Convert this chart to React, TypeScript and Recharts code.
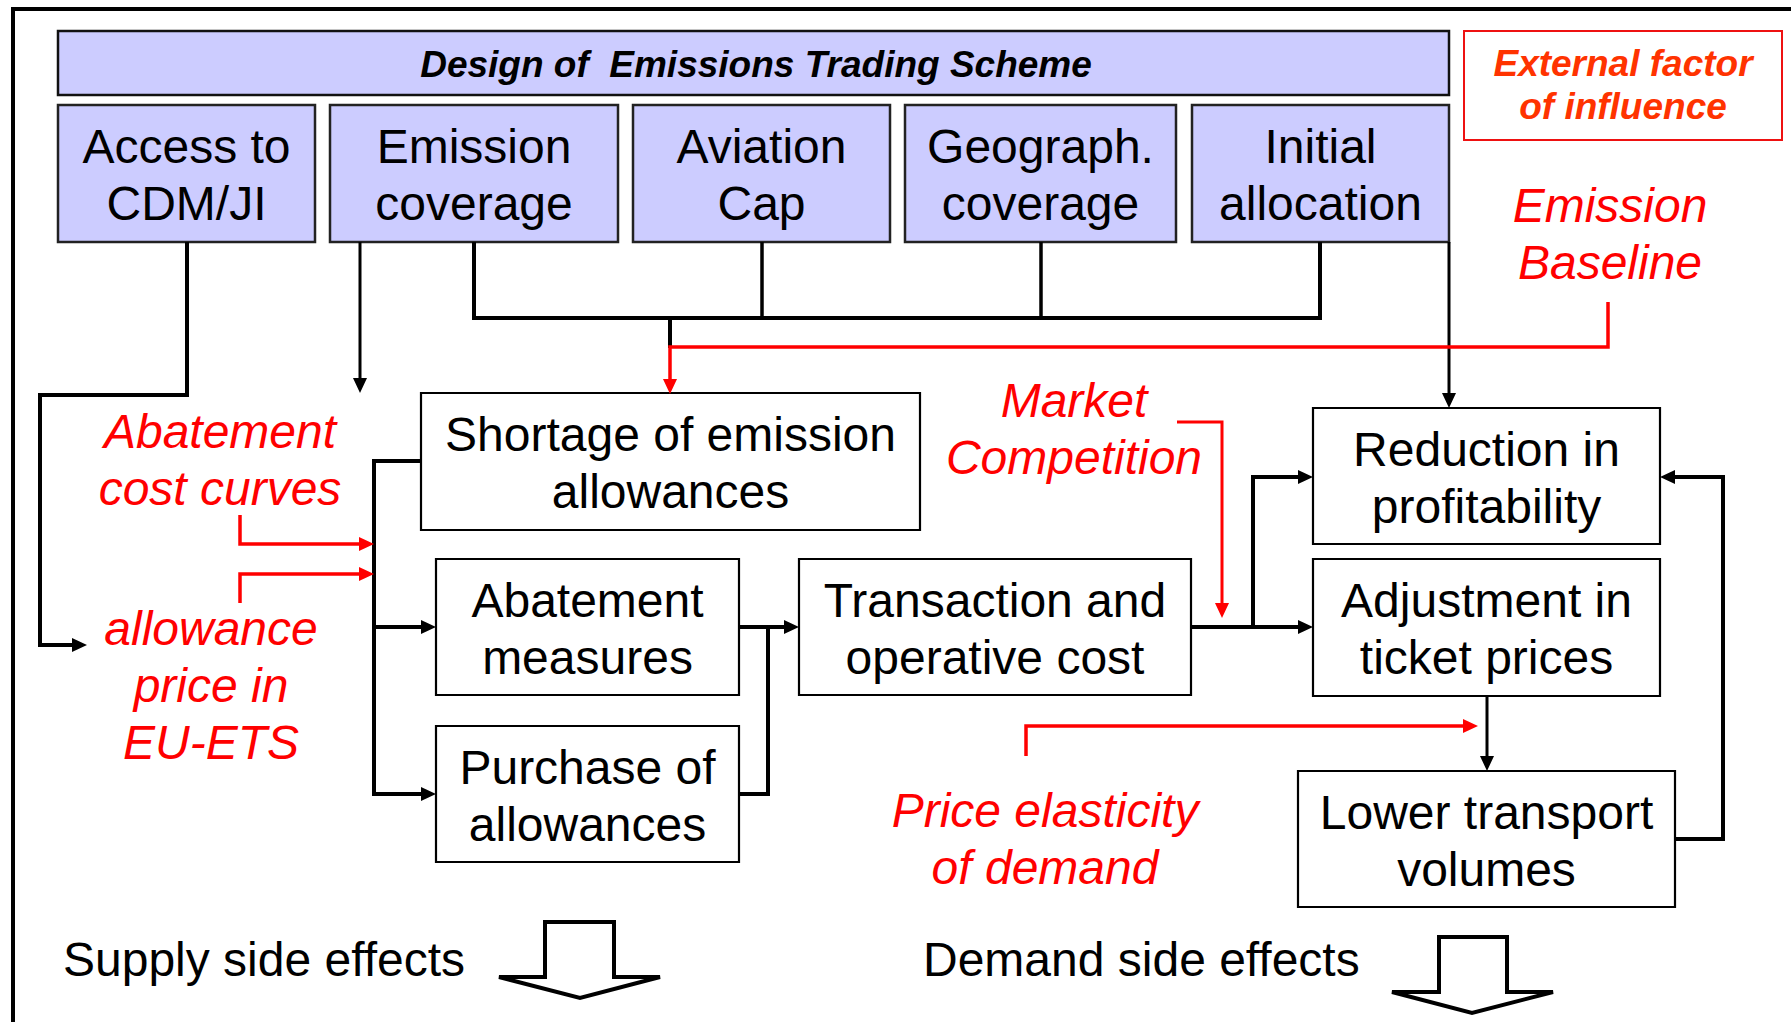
import React from 'react';
import { ComposedChart, XAxis, YAxis, Line, Scatter, ReferenceArea } from 'recharts';

const W = 1791;
const H = 1022;
const FONT = '"Liberation Sans", Arial, Helvetica, sans-serif';
const LAV = '#ccccff';
const RED = '#ff0000';
const ORANGE = '#ff3300';

// ---- boxes: [x1, x2, y1, y2, lines]
type Box = { x1: number; x2: number; y1: number; y2: number; lines: string[] };

const titleBox: Box = { x1: 58, x2: 1449, y1: 31, y2: 95, lines: [] };
const externalBox: Box = { x1: 1464, x2: 1782, y1: 31, y2: 140, lines: [] };

const designBoxes: Box[] = [
  { x1: 58, x2: 315, y1: 105, y2: 242, lines: ['Access to', 'CDM/JI'] },
  { x1: 330, x2: 618, y1: 105, y2: 242, lines: ['Emission', 'coverage'] },
  { x1: 633, x2: 890, y1: 105, y2: 242, lines: ['Aviation', 'Cap'] },
  { x1: 905, x2: 1176, y1: 105, y2: 242, lines: ['Geograph.', 'coverage'] },
  { x1: 1192, x2: 1449, y1: 105, y2: 242, lines: ['Initial', 'allocation'] },
];

const effectBoxes: Box[] = [
  { x1: 421, x2: 920, y1: 393, y2: 530, lines: ['Shortage of emission', 'allowances'] },
  { x1: 436, x2: 739, y1: 559, y2: 695, lines: ['Abatement', 'measures'] },
  { x1: 436, x2: 739, y1: 726, y2: 862, lines: ['Purchase of', 'allowances'] },
  { x1: 799, x2: 1191, y1: 559, y2: 695, lines: ['Transaction and', 'operative cost'] },
  { x1: 1313, x2: 1660, y1: 408, y2: 544, lines: ['Reduction in', 'profitability'] },
  { x1: 1313, x2: 1660, y1: 559, y2: 696, lines: ['Adjustment in', 'ticket prices'] },
  { x1: 1298, x2: 1675, y1: 771, y2: 907, lines: ['Lower transport', 'volumes'] },
];

// ---- red external-factor labels: centre x, first baseline, lines
const redLabels = [
  { x: 220, y: 448, lines: ['Abatement', 'cost curves'] },
  { x: 211, y: 645, lines: ['allowance', 'price in', 'EU-ETS'] },
  { x: 1074, y: 417, lines: ['Market', 'Competition'] },
  { x: 1610, y: 222, lines: ['Emission', 'Baseline'] },
  { x: 1045, y: 827, lines: ['Price elasticity', 'of demand'] },
];

const externalLines = ['External factor', 'of influence'];
const titleText = 'Design of  Emissions Trading Scheme';
const bottomTexts = [
  { x: 63, y: 976, text: 'Supply side effects' },
  { x: 923, y: 976, text: 'Demand side effects' },
];

// ---- connectors: point lists
type Conn = { pts: number[][]; color: string; w: number; arrow: boolean };

const blackConnectors: Conn[] = [
  { pts: [[187, 242], [187, 395], [40, 395], [40, 645], [87, 645]], color: '#000', w: 4, arrow: true },
  { pts: [[360, 242], [360, 393]], color: '#000', w: 3, arrow: true },
  { pts: [[474, 242], [474, 318], [1320, 318], [1320, 242]], color: '#000', w: 4, arrow: false },
  { pts: [[762, 242], [762, 318]], color: '#000', w: 3.5, arrow: false },
  { pts: [[1041, 242], [1041, 318]], color: '#000', w: 3.5, arrow: false },
  { pts: [[670, 318], [670, 348]], color: '#000', w: 4, arrow: false },
  { pts: [[1449, 242], [1449, 408]], color: '#000', w: 3, arrow: true },
  { pts: [[421, 461], [374, 461], [374, 794], [436, 794]], color: '#000', w: 4, arrow: true },
  { pts: [[374, 627], [436, 627]], color: '#000', w: 4, arrow: true },
  { pts: [[739, 627], [799, 627]], color: '#000', w: 4, arrow: true },
  { pts: [[739, 794], [768, 794], [768, 627]], color: '#000', w: 4, arrow: false },
  { pts: [[1191, 627], [1313, 627]], color: '#000', w: 4, arrow: true },
  { pts: [[1253, 627], [1253, 477], [1313, 477]], color: '#000', w: 4, arrow: true },
  { pts: [[1487, 696], [1487, 771]], color: '#000', w: 3, arrow: true },
  { pts: [[1675, 839], [1723, 839], [1723, 477], [1660, 477]], color: '#000', w: 4, arrow: true },
];

const redConnectors: Conn[] = [
  { pts: [[1608, 302], [1608, 347], [670, 347], [670, 394]], color: RED, w: 3.5, arrow: true },
  { pts: [[240, 515], [240, 544], [374, 544]], color: RED, w: 3.5, arrow: true },
  { pts: [[240, 603], [240, 574], [374, 574]], color: RED, w: 3.5, arrow: true },
  { pts: [[1177, 422], [1222, 422], [1222, 618]], color: RED, w: 3, arrow: true },
  { pts: [[1026, 756], [1026, 726], [1478, 726]], color: RED, w: 3.5, arrow: true },
];

const frame = [[13, 1022], [13, 9], [1791, 9]];

const supplyArrow = [[580, 922], [614, 922], [614, 977], [660, 977], [580, 998], [499, 977], [545, 977], [545, 922], [580, 922]];
const demandArrow = [[1473, 937], [1507, 937], [1507, 992], [1553, 992], [1472, 1013], [1392, 992], [1439, 992], [1439, 937], [1473, 937]];

const HEAD_L = 15;
const HEAD_W = 7;

const allConnectors = [...blackConnectors, ...redConnectors];

function lineData(c: Conn) {
  const pts = c.pts.map((p) => ({ x: p[0], y: p[1] }));
  if (c.arrow && pts.length >= 2) {
    const a = pts[pts.length - 2];
    const b = pts[pts.length - 1];
    const dx = b.x - a.x;
    const dy = b.y - a.y;
    const len = Math.hypot(dx, dy) || 1;
    const back = HEAD_L - 3;
    pts[pts.length - 1] = { x: b.x - (dx / len) * back, y: b.y - (dy / len) * back };
  }
  return pts;
}

const arrowHeads = allConnectors
  .filter((c) => c.arrow)
  .map((c) => {
    const a = c.pts[c.pts.length - 2];
    const b = c.pts[c.pts.length - 1];
    return { x: b[0], y: b[1], dx: b[0] - a[0], dy: b[1] - a[1], color: c.color };
  });

type TextItem = { x: number; y: number; text: string; kind: string };
const textItems: TextItem[] = [];
[...designBoxes, ...effectBoxes].forEach((b) => {
  const cx = (b.x1 + b.x2) / 2;
  const cy = (b.y1 + b.y2) / 2;
  b.lines.forEach((t, i) => textItems.push({ x: cx, y: cy - 10.5 + i * 57, text: t, kind: 'box' }));
});
redLabels.forEach((l) => l.lines.forEach((t, i) => textItems.push({ x: l.x, y: l.y + i * 57, text: t, kind: 'red' })));
externalLines.forEach((t, i) => textItems.push({ x: (externalBox.x1 + externalBox.x2) / 2, y: 76 + i * 43, text: t, kind: 'ext' }));
textItems.push({ x: 756, y: 77, text: titleText, kind: 'title' });
bottomTexts.forEach((b) => textItems.push({ x: b.x, y: b.y, text: b.text, kind: 'bottom' }));

const STYLES: Record<string, any> = {
  box: { fontSize: 48, fill: '#000', fontStyle: 'normal', fontWeight: 400, anchor: 'middle' },
  red: { fontSize: 48, fill: RED, fontStyle: 'italic', fontWeight: 400, anchor: 'middle' },
  ext: { fontSize: 37, fill: ORANGE, fontStyle: 'italic', fontWeight: 700, anchor: 'middle' },
  title: { fontSize: 37, fill: '#000', fontStyle: 'italic', fontWeight: 700, anchor: 'middle' },
  bottom: { fontSize: 48, fill: '#000', fontStyle: 'normal', fontWeight: 400, anchor: 'start' },
};

const TextShape = (props: any) => {
  const { cx, cy, payload } = props;
  const s = STYLES[payload.kind];
  return (
    <text
      x={cx}
      y={cy}
      textAnchor={s.anchor}
      fontFamily={FONT}
      fontSize={s.fontSize}
      fontStyle={s.fontStyle}
      fontWeight={s.fontWeight}
      fill={s.fill}
      style={{ whiteSpace: 'pre' }}
    >
      {payload.text}
    </text>
  );
};

const HeadShape = (props: any) => {
  const { cx, cy, payload } = props;
  const len = Math.hypot(payload.dx, payload.dy) || 1;
  const ux = payload.dx / len;
  const uy = payload.dy / len;
  const bx = cx - ux * HEAD_L;
  const by = cy - uy * HEAD_L;
  const px = -uy * HEAD_W;
  const py = ux * HEAD_W;
  const pts = `${cx},${cy} ${bx + px},${by + py} ${bx - px},${by - py}`;
  return <polygon points={pts} fill={payload.color} stroke="none" />;
};

const toXY = (arr: number[][]) => arr.map((p) => ({ x: p[0], y: p[1] }));

export default function App() {
  return (
    <div style={{ position: 'absolute', left: 0, top: 0, width: W, height: H, background: '#fff' }}>
      <ComposedChart width={W} height={H} margin={{ top: 0, right: 0, bottom: 0, left: 0 }}>
        <XAxis type="number" dataKey="x" domain={[0, W]} hide allowDataOverflow />
        <YAxis type="number" dataKey="y" domain={[0, H]} reversed hide allowDataOverflow />

        <ReferenceArea x1={titleBox.x1} x2={titleBox.x2} y1={titleBox.y1} y2={titleBox.y2}
          fill={LAV} fillOpacity={1} stroke="#111" strokeWidth={2.5} ifOverflow="visible" />
        <ReferenceArea x1={externalBox.x1} x2={externalBox.x2} y1={externalBox.y1} y2={externalBox.y2}
          fill="#fff" fillOpacity={1} stroke="#ee1111" strokeWidth={2} ifOverflow="visible" />
        {designBoxes.map((b, i) => (
          <ReferenceArea key={'d' + i} x1={b.x1} x2={b.x2} y1={b.y1} y2={b.y2}
            fill={LAV} fillOpacity={1} stroke="#222" strokeWidth={2.5} ifOverflow="visible" />
        ))}
        {effectBoxes.map((b, i) => (
          <ReferenceArea key={'e' + i} x1={b.x1} x2={b.x2} y1={b.y1} y2={b.y2}
            fill="#fff" fillOpacity={1} stroke="#000" strokeWidth={2.2} ifOverflow="visible" />
        ))}

        <Line data={toXY(frame)} dataKey="y" type="linear" stroke="#000" strokeWidth={4}
          dot={false} activeDot={false} isAnimationActive={false} legendType="none" />
        {allConnectors.map((c, i) => (
          <Line key={'c' + i} data={lineData(c)} dataKey="y" type="linear" stroke={c.color}
            strokeWidth={c.w} strokeLinejoin="miter" dot={false} activeDot={false}
            isAnimationActive={false} legendType="none" />
        ))}
        <Line data={toXY(supplyArrow)} dataKey="y" type="linear" stroke="#000" strokeWidth={4}
          strokeLinejoin="miter" dot={false} activeDot={false} isAnimationActive={false} legendType="none" />
        <Line data={toXY(demandArrow)} dataKey="y" type="linear" stroke="#000" strokeWidth={4}
          strokeLinejoin="miter" dot={false} activeDot={false} isAnimationActive={false} legendType="none" />

        <Scatter data={arrowHeads} dataKey="y" shape={HeadShape} isAnimationActive={false} legendType="none" />
        <Scatter data={textItems} dataKey="y" shape={TextShape} isAnimationActive={false} legendType="none" />
      </ComposedChart>
    </div>
  );
}
